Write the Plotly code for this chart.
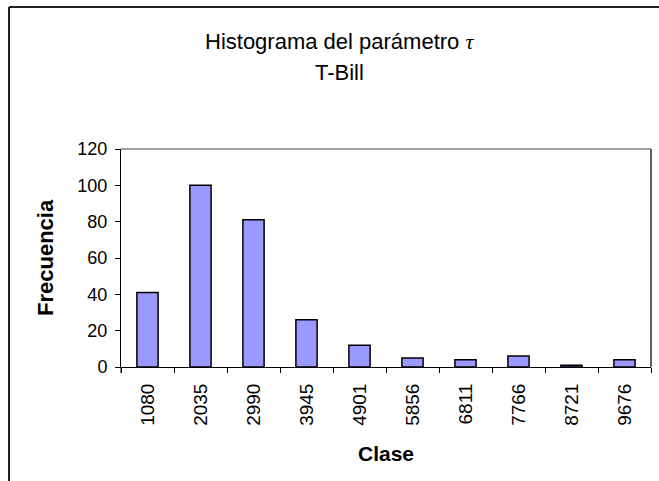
import plotly.graph_objects as go

# Histogram classes and their frequencies
clases = ["1080", "2035", "2990", "3945", "4901", "5856", "6811", "7766", "8721", "9676"]
frecuencias = [41, 100, 81, 26, 12, 5, 4, 6, 1, 4]
y_ticks = [0, 20, 40, 60, 80, 100, 120]

W, H = 659, 481
L, R, T, B = 121, 651, 149, 367  # plot-area pixel edges


def px(x):
    return (x - L) / (R - L)


def py(y):
    return (B - y) / (B - T)


font = "Liberation Sans, Arial, sans-serif"

fig = go.Figure(
    go.Bar(
        x=clases,
        y=frecuencias,
        marker=dict(color="#9999FF", line=dict(color="black", width=1.5)),
    )
)

fig.update_layout(
    width=W,
    height=H,
    margin=dict(l=L, r=W - R, t=T, b=H - B),
    paper_bgcolor="white",
    plot_bgcolor="white",
    bargap=0.6,
    showlegend=False,
    font=dict(family=font, color="black", size=18),
)

fig.update_xaxes(
    type="category",
    showline=True,
    linecolor="black",
    linewidth=1,
    ticks="outside",
    tickson="boundaries",
    ticklen=5,
    tickcolor="black",
    tickangle=-90,
    tickfont=dict(size=19),
    ticklabelstandoff=8,
    showgrid=False,
    zeroline=False,
)
fig.update_yaxes(
    range=[0, 120],
    tickvals=y_ticks,
    showline=True,
    linecolor="black",
    linewidth=1,
    ticks="outside",
    ticklen=5,
    tickcolor="black",
    tickfont=dict(size=18),
    ticklabelstandoff=4,
    showgrid=False,
    zeroline=False,
)

shapes = [
    # plot-area frame: grey top edge, dark right edge
    dict(type="line", xref="paper", yref="paper", x0=0, x1=1, y0=1, y1=1,
         line=dict(color="#808080", width=1.5)),
    dict(type="line", xref="paper", yref="paper", x0=1, x1=1, y0=0, y1=1,
         line=dict(color="#333333", width=1.5)),
    # y axis line runs down past the category axis
    dict(type="line", xref="paper", yref="paper", x0=0, x1=0, y0=py(373), y1=0,
         line=dict(color="black", width=1)),
    # chart-area border (top and left edges)
    dict(type="line", xref="paper", yref="paper", x0=px(9), x1=px(662), y0=py(7), y1=py(7),
         line=dict(color="#222222", width=2)),
    dict(type="line", xref="paper", yref="paper", x0=px(9), x1=px(9), y0=py(7), y1=py(484),
         line=dict(color="#222222", width=2)),
]
fig.update_layout(shapes=shapes)

annotations = [
    dict(text='Histograma del parámetro <span style="font-family:Liberation Serif, Times New Roman, serif"><i>τ</i></span>',
         x=px(339), y=py(41), xref="paper", yref="paper", showarrow=False,
         font=dict(size=22), xanchor="center", yanchor="middle"),
    dict(text="T-Bill", x=px(339), y=py(72), xref="paper", yref="paper", showarrow=False,
         font=dict(size=22), xanchor="center", yanchor="middle"),
    dict(text="<b>Frecuencia</b>", x=px(45), y=py(258), xref="paper", yref="paper",
         showarrow=False, textangle=-90, font=dict(size=22),
         xanchor="center", yanchor="middle"),
    dict(text="<b>Clase</b>", x=px(386), y=py(453), xref="paper", yref="paper",
         showarrow=False, font=dict(size=21), xanchor="center", yanchor="middle"),
]
fig.update_layout(annotations=annotations)

fig.write_html("out.html")
